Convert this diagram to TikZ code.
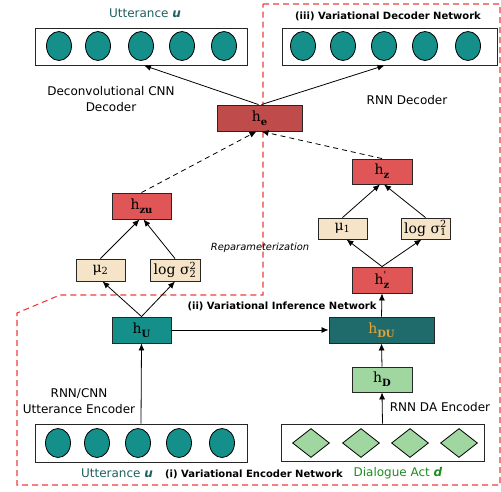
\documentclass[tikz,border=0pt]{standalone}
\usepackage{fontspec}
\setmainfont{DejaVu Sans}
\newfontfamily\hserif{DejaVu Serif}
\usetikzlibrary{arrows.meta,shapes.geometric}
\definecolor{tealc}{HTML}{148F8A}
\definecolor{tealdark}{HTML}{1F6B6B}
\definecolor{redd}{HTML}{C04B4B}
\definecolor{redl}{HTML}{E05656}
\definecolor{beige}{HTML}{F5E4C8}
\definecolor{greenl}{HTML}{A0D6A0}
\definecolor{uttxt}{HTML}{1F5F5F}
\definecolor{datxt}{HTML}{1E8C1E}
\definecolor{orangetxt}{HTML}{E8A534}
\definecolor{dashred}{HTML}{F03C3C}
\newcommand\hsub[1]{h\raisebox{-0.55ex}{\fontsize{10}{10}\selectfont\bfseries #1}}
\newcommand\subsupx[2]{\rlap{\textsuperscript{#2}}\textsubscript{#1}}
\tikzset{
  hbox/.style={draw=black!85, line width=0.9pt, inner sep=0pt, font=\hserif\fontsize{14}{16}\selectfont},
  seqbox/.style={draw=black!85, line width=0.9pt, inner sep=0pt, fill=white},
  circ/.style={ellipse, draw=black, line width=0.8pt, fill=tealc, minimum width=25pt, minimum height=29pt, inner sep=0pt},
  dia/.style={diamond, draw=black, line width=0.8pt, fill=greenl, minimum width=37pt, minimum height=29pt, inner sep=0pt},
  arr/.style={-{Latex[length=7pt,width=6pt]}, line width=0.8pt},
  darr/.style={-{Latex[length=7pt,width=6pt]}, line width=0.8pt, dash pattern=on 5pt off 4pt},
  lbl/.style={font=\fontsize{12}{14.5}\selectfont, align=center, inner sep=0pt},
  blbl/.style={font=\bfseries\fontsize{10}{12}\selectfont, inner sep=0pt},
}
\begin{document}
\begin{tikzpicture}[x=1pt,y=-1pt]
\useasboundingbox (0,0) rectangle (501,491);
% region boundary
\draw[dashred, line width=1.1pt, dash pattern=on 6pt off 4pt] (263,4) -- (500,4) -- (500,485) -- (17,485) -- (17,313) -- (60,295) -- (263,295) -- cycle;
% sequence boxes
\node[seqbox, minimum width=212pt, minimum height=37pt] (topL) at (141,46.5) {};
\node[seqbox, minimum width=215pt, minimum height=37pt] (topR) at (389.5,46.5) {};
\node[seqbox, minimum width=212pt, minimum height=38pt] (botL) at (141,443) {};
\node[seqbox, minimum width=203pt, minimum height=37pt] (DA) at (382.5,442.5) {};
\foreach \x [count=\i] in {59,98,141,182,224} \node[circ] (tl\i) at (\x,46) {};
\foreach \x [count=\i] in {303,343,384,425,468} \node[circ] (tr\i) at (\x,46) {};
\foreach \x [count=\i] in {58,97,138,179,222} \node[circ] (bl\i) at (\x,443) {};
\foreach \x [count=\i] in {311,361,410,459} \node[dia] (d\i) at (\x,443) {};
% hidden nodes
\node[hbox, fill=redd, minimum width=85pt, minimum height=26pt] (he) at (259.5,118) {\hsub{e}};
\node[hbox, fill=redl, minimum width=59pt, minimum height=26pt] (hzu) at (141.5,206) {\hsub{zu}};
\node[hbox, fill=beige, minimum width=49pt, minimum height=22pt] (mu2) at (100.5,270) {μ\textsubscript{2}};
\node[hbox, fill=beige, minimum width=50pt, minimum height=22pt] (ls2) at (175,270) {log σ\subsupx{2}{2}};
\node[hbox, fill=tealc, minimum width=59pt, minimum height=26pt] (hU) at (141.5,330) {\hsub{U}};
\node[hbox, fill=tealdark, minimum width=105pt, minimum height=26pt, text=orangetxt] (hDU) at (381.5,330) {\hsub{DU}};
\node[hbox, fill=greenl, minimum width=60pt, minimum height=25pt] (hD) at (382,379.5) {\hsub{D}};
\node[hbox, fill=redl, minimum width=60pt, minimum height=25pt] (hz) at (382,171.5) {\hsub{z}};
\node[hbox, fill=beige, minimum width=49pt, minimum height=21pt] (mu1) at (342.5,228.5) {μ\textsubscript{1}};
\node[hbox, fill=beige, minimum width=49pt, minimum height=21pt] (ls1) at (425.5,228.5) {log σ\subsupx{1}{2}};
\node[hbox, fill=redl, minimum width=60pt, minimum height=26pt] (hzp) at (382,280) {h\rlap{\textsuperscript{'}}\raisebox{-0.55ex}{\fontsize{10}{10}\selectfont\bfseries z}};
% connectors
\draw[arr] ([xshift=-1pt]he.north) -- ([xshift=3pt]topL.south);
\draw[arr] ([xshift=2pt]he.north) -- ([xshift=-5pt]topR.south);
\draw[darr] (hzu.north) -- ([xshift=-3pt]he.south);
\draw[darr] (hz.north) -- ([xshift=2pt]he.south);
\draw[arr] (mu2.north) -- ([xshift=-2pt]hzu.south);
\draw[arr] (ls2.north) -- ([xshift=2pt]hzu.south);
\draw[arr] (hU.north) -- ([xshift=2pt]mu2.south);
\draw[arr] (hU.north) -- (ls2.south);
\draw[arr] (botL.north) -- (hU.south);
\draw[arr] (hU.east) -- (hDU.west);
\draw[arr] (DA.north) -- (hD.south);
\draw[arr] (hD.north) -- (hDU.south);
\draw[arr] (hDU.north) -- (hzp.south);
\draw[arr] (hzp.north) -- ([xshift=4pt]mu1.south);
\draw[arr] (hzp.north) -- ([xshift=-4pt]ls1.south);
\draw[arr] (mu1.north) -- ([xshift=-2pt]hz.south);
\draw[arr] (ls1.north) -- ([xshift=2pt]hz.south);
% labels
\node[lbl, text=uttxt] (t1) at (145,13) {Utterance \textbf{\itshape u}};
\node[blbl] (t2) at (388,16) {(iii) Variational Decoder Network};
\node[lbl] (t3) at (111,99) {Deconvolutional CNN\\[1pt]Decoder};
\node[lbl] (t4) at (407,100) {RNN Decoder};
\node[font=\itshape\fontsize{9.9}{11}\selectfont, inner sep=0pt] (t5) at (260,248) {Reparameterization};
\node[blbl] (t6) at (282,306) {(ii) Variational Inference Network};
\node[lbl] (t7) at (79,401) {RNN/CNN\\[1pt]Utterance Encoder};
\node[lbl] (t8) at (440,407) {RNN DA Encoder};
\node[lbl, text=uttxt] (t9) at (117,473) {Utterance \textbf{\itshape u}};
\node[blbl] (t10) at (254,474.5) {(i) Variational Encoder Network};
\node[lbl, text=datxt] (t11) at (398,473) {Dialogue Act \textbf{\itshape d}};
\end{tikzpicture}
\end{document}
